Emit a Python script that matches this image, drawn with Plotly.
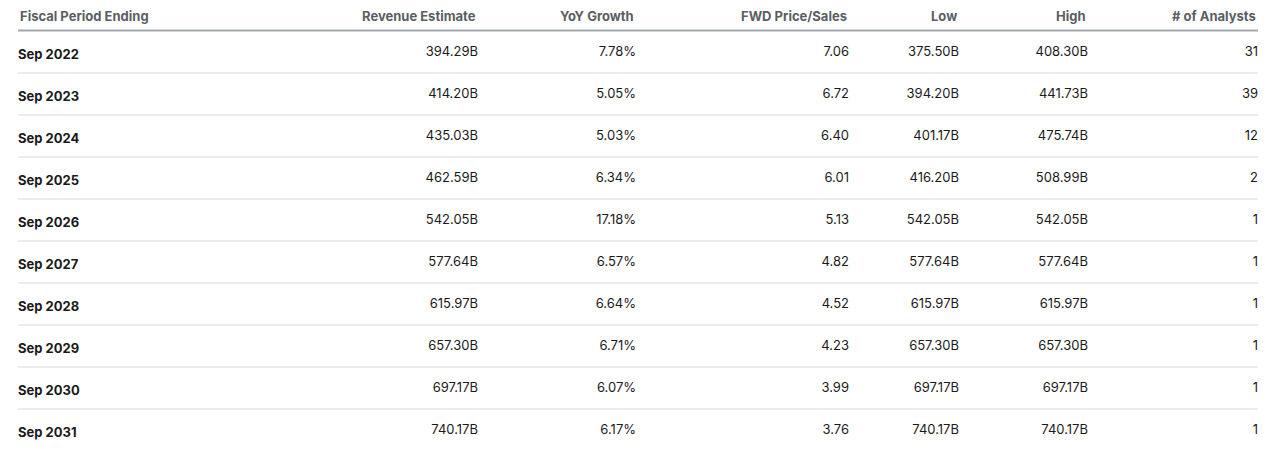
import plotly.graph_objects as go

periods = ["Sep 2022", "Sep 2023", "Sep 2024", "Sep 2025", "Sep 2026",
           "Sep 2027", "Sep 2028", "Sep 2029", "Sep 2030", "Sep 2031"]
revenue = ["394.29B", "414.20B", "435.03B", "462.59B", "542.05B",
           "577.64B", "615.97B", "657.30B", "697.17B", "740.17B"]
yoy = ["7.78%", "5.05%", "5.03%", "6.34%", "17.18%",
       "6.57%", "6.64%", "6.71%", "6.07%", "6.17%"]
fwd_ps = ["7.06", "6.72", "6.40", "6.01", "5.13", "4.82", "4.52", "4.23", "3.99", "3.76"]
low = ["375.50B", "394.20B", "401.17B", "416.20B", "542.05B",
       "577.64B", "615.97B", "657.30B", "697.17B", "740.17B"]
high = ["408.30B", "441.73B", "475.74B", "508.99B", "542.05B",
        "577.64B", "615.97B", "657.30B", "697.17B", "740.17B"]
analysts = ["31", "39", "12", "2", "1", "1", "1", "1", "1", "1"]
headers = ["Fiscal Period Ending", "Revenue Estimate", "YoY Growth",
           "FWD Price/Sales", "Low", "High", "# of Analysts"]

W, H = 1280, 460
off = 8  # page body margin
x0, x1 = 10 - off, 1266 - off
header_h, row_h = 30, 42
col_w = [290, 186, 158, 213, 110, 129, 170]
font = "Inter, Roboto, sans-serif"

fig = go.Figure(go.Table(
    domain=dict(x=[x0 / W, x1 / W], y=[0, 1]),
    columnwidth=col_w,
    header=dict(values=[""] * len(headers), fill_color="white",
                line=dict(color="white", width=0), height=header_h),
    cells=dict(
        values=[[f"<b>{p}</b>" for p in periods], revenue, yoy, fwd_ps, low, high, analysts],
        align=["left"] + ["right"] * 6,
        font=dict(family=font, size=13, color="#1a1a1a"),
        fill_color="white",
        line=dict(color="white", width=0),
        height=row_h,
    ),
))

# header labels as annotations (placed higher than table header allows)
annotations = []
edges = [x0]
for w in col_w:
    edges.append(edges[-1] + w * (x1 - x0) / sum(col_w))
for i, h in enumerate(headers):
    if i == 0:
        xa, anchor = edges[0] + 8, "left"
    else:
        xa, anchor = edges[i + 1] - 8, "right"
    annotations.append(dict(text=f"<b>{h}</b>", x=xa / W, y=1 - (16 - off) / H,
                            xref="paper", yref="paper", xanchor=anchor, yanchor="middle",
                            showarrow=False, font=dict(family=font, size=13, color="#5a5e63")))

lx0, lx1 = (18 - off) / W, (1258 - off) / W
shapes = [dict(type="line", xref="paper", yref="paper", x0=lx0, x1=lx1,
               y0=1 - (30.5 - off) / H, y1=1 - (30.5 - off) / H,
               line=dict(color="#a4a8ad", width=2))]
for i in range(1, len(periods)):
    y = 73 + (i - 1) * row_h - off
    shapes.append(dict(type="line", xref="paper", yref="paper", x0=lx0, x1=lx1,
                       y0=1 - y / H, y1=1 - y / H, line=dict(color="#e6e6e6", width=1.5)))

fig.update_layout(width=W, height=H, margin=dict(l=0, r=0, t=0, b=0),
                  paper_bgcolor="white", shapes=shapes, annotations=annotations)
fig.write_html("out.html")
